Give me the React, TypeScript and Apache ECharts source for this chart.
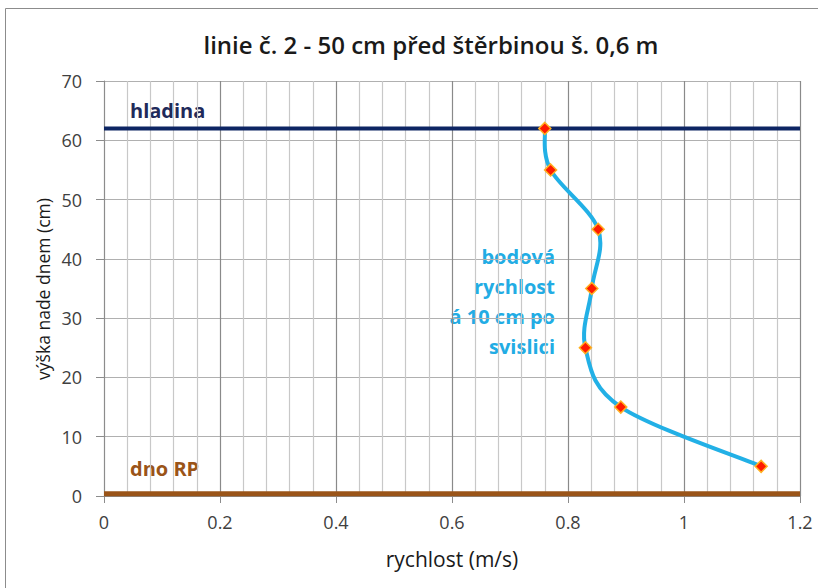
import React, { useEffect, useRef } from "react";
import * as echarts from "echarts";

const titleText = "linie č. 2 - 50 cm před štěrbinou š. 0,6 m";
const xAxisName = "rychlost (m/s)";
const yAxisName = "výška nade dnem (cm)";
const velocity = [0.76, 0.77, 0.852, 0.841, 0.83, 0.891, 1.133];
const height = [62, 55, 45, 35, 25, 15, 5];
const surfaceLevel = 62;
const bottomLevel = 0.4;
const xRange = [0, 1.2];
const surfaceLabel = "hladina";
const bottomLabel = "dno RP";
const noteLines = ["bodová", "rychlost", "á 10 cm po", "svislici"];

const FONT = "'Open Sans', 'Noto Sans', sans-serif";

export default function App() {
  const ref = useRef<HTMLDivElement>(null);
  useEffect(() => {
    if (!ref.current) return;
    const chart = echarts.init(ref.current, undefined, { renderer: "svg" });
    const profile = velocity.map((v, i) => [v, height[i]]);
    const segments = profile.slice(0, -1).map((p, i) => [i]);
    chart.setOption({
      animation: false,
      backgroundColor: "#ffffff",
      title: {
        text: titleText,
        left: 426,
        textAlign: "center",
        top: 27,
        textStyle: { fontFamily: FONT, fontSize: 24, fontWeight: 600, color: "#1a1a1a" },
      },
      grid: { left: 104, right: 18, top: 81, bottom: 92 },
      xAxis: {
        type: "value",
        min: xRange[0],
        max: xRange[1],
        interval: 0.2,
        name: xAxisName,
        nameLocation: "middle",
        nameGap: 52,
        nameTextStyle: { fontFamily: FONT, fontSize: 21, color: "#1a1a1a" },
        axisLine: { show: true, lineStyle: { color: "#8c8c8c", width: 1 } },
        axisTick: { show: true, length: 7, lineStyle: { color: "#8c8c8c" } },
        axisLabel: { fontFamily: FONT, fontSize: 18, color: "#404040", margin: 17 },
        splitLine: { show: true, lineStyle: { color: "#8a8a8a", width: 1.2 } },
        minorTick: { show: false, splitNumber: 5 },
        minorSplitLine: { show: true, lineStyle: { color: "#c8c8c8", width: 1.2 } },
      },
      yAxis: {
        type: "value",
        min: 0,
        max: 70,
        interval: 10,
        axisLine: { show: true, lineStyle: { color: "#8c8c8c", width: 1 } },
        axisTick: { show: true, length: 8, lineStyle: { color: "#8c8c8c" } },
        axisLabel: { fontFamily: FONT, fontSize: 18, color: "#404040", margin: 22 },
        splitLine: { show: true, lineStyle: { color: "#b0b0b0", width: 1.2 } },
      },
      series: [
        {
          type: "line",
          data: [[xRange[0], surfaceLevel], [xRange[1], surfaceLevel]],
          symbol: "none",
          lineStyle: { color: "#0d2563", width: 4 },
          silent: true,
          z: 3,
        },
        {
          type: "line",
          data: [[xRange[0], bottomLevel], [xRange[1], bottomLevel]],
          symbol: "none",
          lineStyle: { color: "#9a5418", width: 5 },
          silent: true,
          z: 3,
        },
        {
          type: "custom",
          data: segments,
          silent: true,
          z: 4,
          renderItem: (params: any, api: any) => {
            const i = api.value(0);
            const n = profile.length;
            const pt = (k: number) => api.coord(profile[Math.max(0, Math.min(n - 1, k))]);
            const p0 = pt(i - 1);
            const p1 = pt(i);
            const p2 = pt(i + 1);
            const p3 = pt(i + 2);
            const t = 1 / 6;
            return {
              type: "bezierCurve",
              shape: {
                x1: p1[0],
                y1: p1[1],
                cpx1: p1[0] + (p2[0] - p0[0]) * t,
                cpy1: p1[1] + (p2[1] - p0[1]) * t,
                cpx2: p2[0] - (p3[0] - p1[0]) * t,
                cpy2: p2[1] - (p3[1] - p1[1]) * t,
                x2: p2[0],
                y2: p2[1],
              },
              style: { stroke: "#22b0e6", lineWidth: 4, fill: "none", lineCap: "round" },
            };
          },
        },
        {
          type: "scatter",
          data: profile,
          symbol: "diamond",
          symbolSize: 12,
          itemStyle: { color: "#ff1a00", borderColor: "#ffb020", borderWidth: 1.5, opacity: 1 },
          z: 5,
        },
      ],
      graphic: [
        {
          type: "rect",
          shape: { x: 5.5, y: 8.5, width: 830, height: 600 },
          style: { fill: "none", stroke: "#8c8c8c", lineWidth: 1 },
          silent: true,
        },
        {
          type: "text",
          x: 43,
          y: 289,
          rotation: Math.PI / 2,
          style: {
            text: yAxisName,
            fontFamily: FONT,
            fontSize: 17.5,
            fill: "#1a1a1a",
            align: "center",
            verticalAlign: "middle",
          },
        },
        {
          type: "text",
          x: 130,
          y: 110,
          style: {
            text: surfaceLabel,
            fontFamily: FONT,
            fontSize: 20,
            fontWeight: "bold",
            fill: "#1f2a5a",
            verticalAlign: "middle",
          },
        },
        {
          type: "text",
          x: 130,
          y: 468,
          style: {
            text: bottomLabel,
            fontFamily: FONT,
            fontSize: 20,
            fontWeight: "bold",
            fill: "#9a5418",
            verticalAlign: "middle",
          },
        },
        {
          type: "text",
          x: 555,
          y: 301,
          style: {
            text: noteLines.join("\n"),
            fontFamily: FONT,
            fontSize: 20,
            fontWeight: "bold",
            fill: "#22ace4",
            align: "right",
            verticalAlign: "middle",
            lineHeight: 30,
          },
        },
      ],
    });
    return () => chart.dispose();
  }, []);
  return (
    <div
      ref={ref}
      style={{ position: "absolute", left: 0, top: 0, width: 818, height: 588 }}
    />
  );
}
